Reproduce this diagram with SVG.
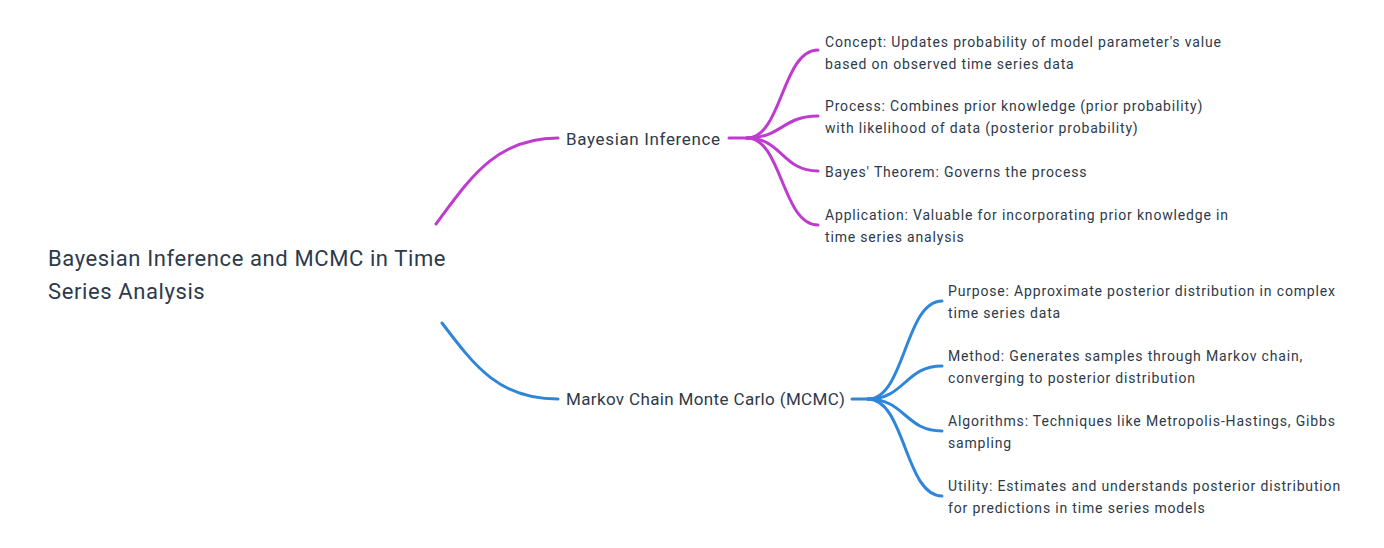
<svg xmlns="http://www.w3.org/2000/svg" width="1384" height="548" viewBox="0 0 1384 548">
<style>
  text { font-family: Roboto, "Liberation Sans", sans-serif; fill: #2d3a4a; }
  .root { font-size: 22px; letter-spacing: 0.6px; }
  .mid { font-size: 17px; letter-spacing: 0.5px; }
  .leaf { font-size: 14px; letter-spacing: 0.83px; }
  .lk { fill: none; stroke-width: 3; stroke-linecap: round; }
  .p { stroke: #bf3bd0; }
  .b { stroke: #2f86d9; }
</style>
<rect width="1384" height="548" fill="#ffffff"/>
<g id="connectors">
  <path class="lk p" d="M436,224 C470,178 496,138 558,138"/>
  <path class="lk b" d="M442,323 C476,368 500,399 558,399"/>
  <path class="lk p" d="M729,138 L747,138"/>
  <path class="lk p" d="M747,138 C782,138 782,50 818,50"/>
  <path class="lk p" d="M747,138 C782,138 782,116 818,116"/>
  <path class="lk p" d="M747,138 C782,138 782,171 818,171"/>
  <path class="lk p" d="M747,138 C782,138 782,225 818,225"/>
  <path class="lk b" d="M852,399 L868,399"/>
  <path class="lk b" d="M868,399 C905,399 905,301 942,301"/>
  <path class="lk b" d="M868,399 C905,399 905,366 942,366"/>
  <path class="lk b" d="M868,399 C905,399 905,431 942,431"/>
  <path class="lk b" d="M868,399 C905,399 905,496 942,496"/>
</g>
<g id="root">
  <text class="root" x="48" y="266">Bayesian Inference and MCMC in Time</text>
  <text class="root" x="48" y="299">Series Analysis</text>
</g>
<g id="bayes">
  <text class="mid" x="566" y="145" style="letter-spacing:0.65px">Bayesian Inference</text>
</g>
<g id="mcmc">
  <text class="mid" x="566" y="405" style="letter-spacing:0.36px">Markov Chain Monte Carlo (MCMC)</text>
</g>
<g id="concept">
  <text class="leaf" x="825" y="47">Concept: Updates probability of model parameter's value</text>
  <text class="leaf" x="825" y="69">based on observed time series data</text>
</g>
<g id="process">
  <text class="leaf" x="825" y="111">Process: Combines prior knowledge (prior probability)</text>
  <text class="leaf" x="825" y="133">with likelihood of data (posterior probability)</text>
</g>
<g id="theorem">
  <text class="leaf" x="825" y="177">Bayes' Theorem: Governs the process</text>
</g>
<g id="application">
  <text class="leaf" x="825" y="220">Application: Valuable for incorporating prior knowledge in</text>
  <text class="leaf" x="825" y="242">time series analysis</text>
</g>
<g id="purpose">
  <text class="leaf" x="948" y="296">Purpose: Approximate posterior distribution in complex</text>
  <text class="leaf" x="948" y="318">time series data</text>
</g>
<g id="method">
  <text class="leaf" x="948" y="361">Method: Generates samples through Markov chain,</text>
  <text class="leaf" x="948" y="383">converging to posterior distribution</text>
</g>
<g id="algorithms">
  <text class="leaf" x="948" y="426">Algorithms: Techniques like Metropolis-Hastings, Gibbs</text>
  <text class="leaf" x="948" y="448">sampling</text>
</g>
<g id="utility">
  <text class="leaf" x="948" y="491">Utility: Estimates and understands posterior distribution</text>
  <text class="leaf" x="948" y="513">for predictions in time series models</text>
</g>
</svg>
